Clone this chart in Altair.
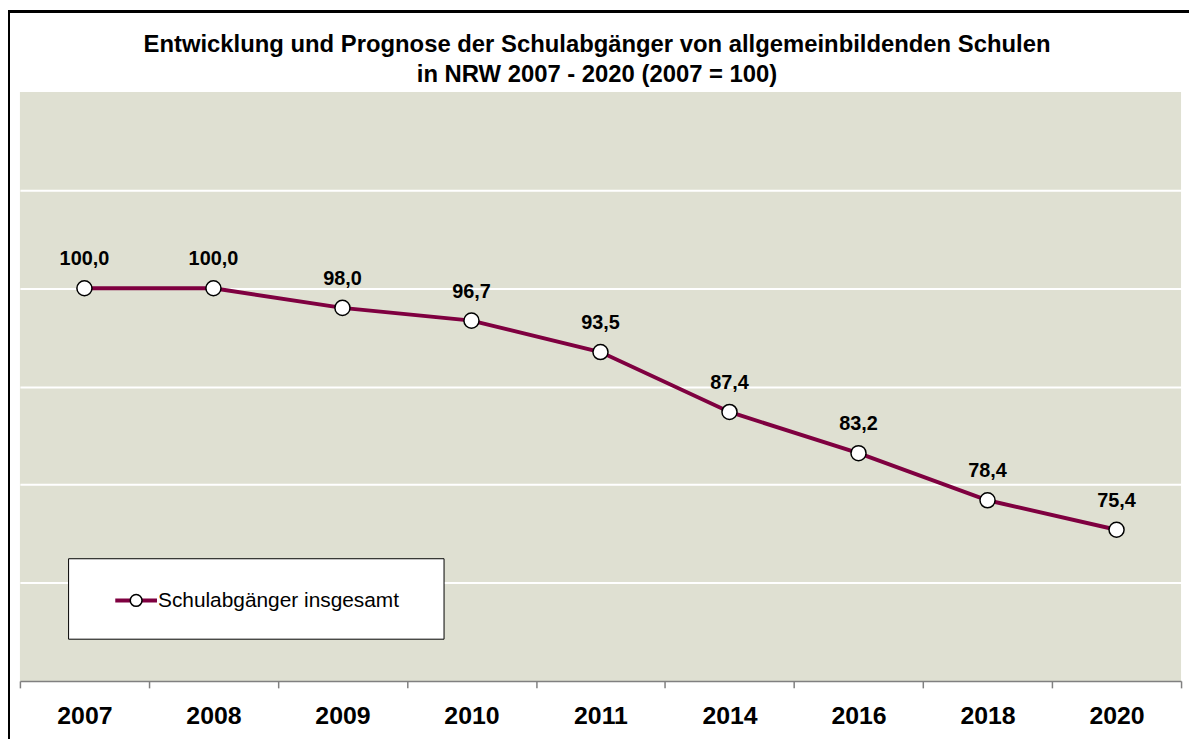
import altair as alt
import pandas as pd

jahre = ["2007", "2008", "2009", "2010", "2011", "2014", "2016", "2018", "2020"]
werte = [100.0, 100.0, 98.0, 96.7, 93.5, 87.4, 83.2, 78.4, 75.4]
serie = "Schulabgänger insgesamt"
titel = ["Entwicklung und Prognose der Schulabgänger von allgemeinbildenden Schulen",
         "in NRW 2007 - 2020 (2007 = 100)"]

df = pd.DataFrame({"Jahr": jahre, "Wert": werte})

FONT = "Liberation Sans"
LINE = "#7f0040"
W, H = 1169, 593

x = alt.X("Jahr:N", sort=jahre, title=None,
          scale=alt.Scale(paddingInner=0, paddingOuter=0),
          axis=alt.Axis(labelAngle=0, labelFont=FONT, labelFontSize=25, labelFontWeight="bold",
                        labelColor="black", labelPadding=16, tickBand="extent", tickSize=7,
                        tickColor="#808080", domainColor="#808080", tickWidth=1.5, domainWidth=1.5,
                        grid=False))
y = alt.Y("Wert:Q", title=None,
          scale=alt.Scale(domain=[60, 120], nice=False, zero=False),
          axis=alt.Axis(labels=False, ticks=False, domain=False, grid=True,
                        values=[70, 80, 90, 100, 110], gridColor="white", gridWidth=2, gridOpacity=1))

base = alt.Chart(df)

line = base.mark_line(color=LINE, strokeWidth=4).encode(x=x, y=y)
pts = base.mark_point(filled=True, fill="white", stroke="black", strokeWidth=1.5, size=230, opacity=1).encode(x=x, y=y)
labels = base.transform_calculate(
    txt="replace(format(datum.Wert, '.1f'), '.', ',')"
).mark_text(font=FONT, fontSize=20, fontWeight="bold", dy=-29, color="black").encode(
    x=x, y=y, text="txt:N")

frame = alt.Chart(df).mark_rect(fill=None, stroke="black", strokeWidth=2, clip=False).encode(
    x=alt.value(-11), x2=alt.value(1240), y=alt.value(-81), y2=alt.value(700))

leg_df = pd.DataFrame({"name": [serie]})

def title_line(text, ypos):
    return alt.Chart(leg_df).mark_text(font=FONT, fontSize=24, fontWeight="bold", color="black",
                                       align="center", baseline="middle").encode(
        x=alt.value(581), y=alt.value(ypos), text=alt.value(text))

t1 = title_line(titel[0], -47)
t2 = title_line(titel[1], -17)

leg_box = alt.Chart(leg_df).mark_rect(fill="white", stroke="black", strokeWidth=1).encode(
    x=alt.value(49), x2=alt.value(427), y=alt.value(470), y2=alt.value(551))
leg_line = alt.Chart(leg_df).mark_rule(color=LINE, strokeWidth=4).encode(
    x=alt.value(96), x2=alt.value(138), y=alt.value(512))
leg_pt = alt.Chart(leg_df).mark_point(filled=True, fill="white", stroke="black", strokeWidth=1.5,
                                      size=140, opacity=1).encode(x=alt.value(117), y=alt.value(512))
leg_txt = alt.Chart(leg_df).mark_text(font=FONT, fontSize=21, align="left", baseline="middle",
                                      color="black").encode(x=alt.value(139), y=alt.value(513), text="name:N")

chart = alt.layer(frame, line, pts, labels, leg_box, leg_line, leg_pt, leg_txt, t1, t2).properties(
    width=W, height=H,
    background="white",
    padding={"left": 12, "top": 82, "right": 8, "bottom": 56},
    autosize=alt.AutoSizeParams(type="none"),
).configure_view(fill="#dfe0d2", strokeWidth=0)

chart.save("out.html", embed_options={"renderer": "svg", "actions": False})
